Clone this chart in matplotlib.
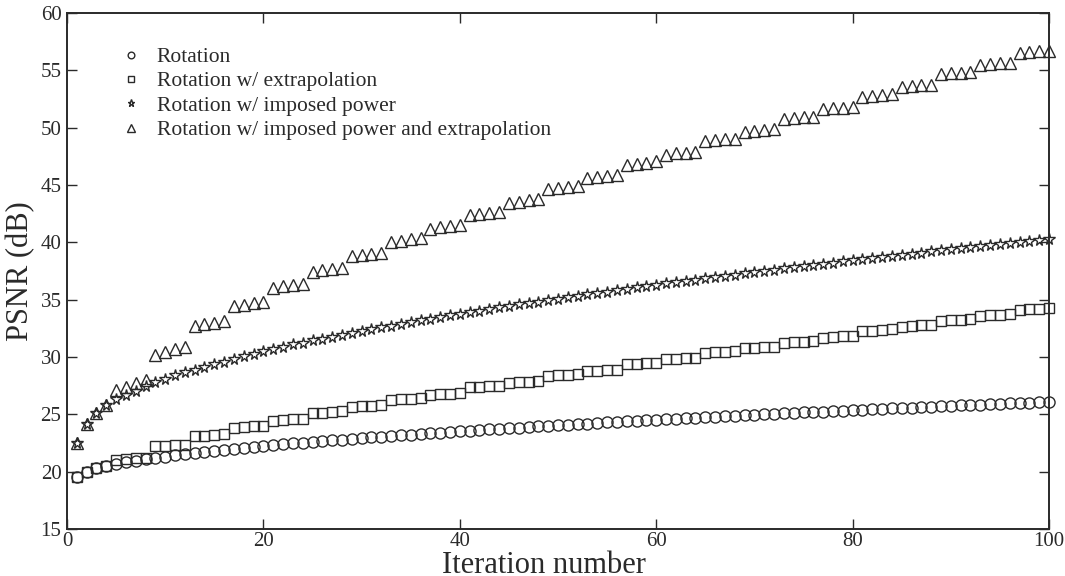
import numpy as np
import matplotlib
matplotlib.use("Agg")
import matplotlib.pyplot as plt

# Data (PSNR in dB per iteration)
iterations = list(range(1, 101))

rotation = [
    19.5, 20.0, 20.3, 20.5, 20.67, 20.81, 20.95, 21.08, 21.2, 21.31,
    21.42, 21.52, 21.62, 21.72, 21.81, 21.9, 21.99, 22.07, 22.15, 22.23,
    22.31, 22.38, 22.46, 22.53, 22.6, 22.67, 22.74, 22.8, 22.87, 22.93,
    23.0, 23.06, 23.12, 23.18, 23.24, 23.3, 23.36, 23.41, 23.47, 23.53,
    23.58, 23.64, 23.69, 23.74, 23.8, 23.85, 23.9, 23.95, 24.0, 24.05,
    24.1, 24.15, 24.2, 24.24, 24.29, 24.34, 24.39, 24.43, 24.48, 24.52,
    24.57, 24.61, 24.66, 24.7, 24.74, 24.79, 24.83, 24.87, 24.91, 24.96,
    25.0, 25.04, 25.08, 25.12, 25.16, 25.2, 25.24, 25.28, 25.32, 25.36,
    25.4, 25.44, 25.48, 25.52, 25.55, 25.59, 25.63, 25.67, 25.7, 25.74,
    25.78, 25.81, 25.85, 25.89, 25.92, 25.96, 25.99, 26.03, 26.07, 26.1,
]

rotation_extrap = [
    19.5, 20.0, 20.3, 20.5, 21.05, 21.1, 21.15, 21.2, 22.2, 22.25,
    22.3, 22.35, 23.1, 23.15, 23.2, 23.25, 23.85, 23.9, 23.95, 24.0,
    24.45, 24.5, 24.55, 24.6, 25.1, 25.15, 25.2, 25.25, 25.65, 25.7,
    25.75, 25.8, 26.25, 26.3, 26.35, 26.4, 26.7, 26.75, 26.8, 26.85,
    27.35, 27.4, 27.45, 27.5, 27.75, 27.8, 27.85, 27.9, 28.35, 28.4,
    28.45, 28.5, 28.75, 28.8, 28.85, 28.9, 29.35, 29.4, 29.45, 29.5,
    29.8, 29.85, 29.9, 29.95, 30.35, 30.4, 30.45, 30.5, 30.75, 30.8,
    30.85, 30.9, 31.25, 31.3, 31.35, 31.4, 31.7, 31.75, 31.8, 31.85,
    32.25, 32.3, 32.35, 32.4, 32.65, 32.7, 32.75, 32.8, 33.15, 33.2,
    33.25, 33.3, 33.6, 33.65, 33.7, 33.75, 34.1, 34.15, 34.2, 34.25,
]

rotation_power = [
    22.5, 24.2, 25.1, 25.8, 26.3, 26.7, 27.05, 27.45, 27.8, 28.1,
    28.4, 28.65, 28.9, 29.15, 29.4, 29.6, 29.85, 30.05, 30.3, 30.5,
    30.7, 30.9, 31.1, 31.25, 31.45, 31.6, 31.75, 31.95, 32.1, 32.26,
    32.42, 32.58, 32.74, 32.89, 33.04, 33.19, 33.34, 33.48, 33.63, 33.77,
    33.91, 34.05, 34.18, 34.32, 34.45, 34.58, 34.71, 34.84, 34.97, 35.1,
    35.22, 35.35, 35.47, 35.59, 35.71, 35.83, 35.95, 36.07, 36.18, 36.3,
    36.41, 36.53, 36.64, 36.75, 36.86, 36.97, 37.08, 37.19, 37.3, 37.4,
    37.51, 37.61, 37.72, 37.82, 37.92, 38.03, 38.13, 38.23, 38.33, 38.43,
    38.53, 38.63, 38.73, 38.82, 38.92, 39.02, 39.11, 39.21, 39.3, 39.4,
    39.49, 39.58, 39.68, 39.77, 39.86, 39.95, 40.04, 40.13, 40.22, 40.31,
]

rotation_power_extrap = [
    22.5, 24.2, 25.1, 25.8, 27.1, 27.4, 27.7, 28.0, 30.2, 30.45,
    30.7, 30.9, 32.7, 32.85, 33.0, 33.15, 34.45, 34.55, 34.7, 34.8,
    36.05, 36.15, 36.3, 36.4, 37.45, 37.55, 37.7, 37.8, 38.8, 38.9,
    39.0, 39.1, 40.05, 40.15, 40.25, 40.35, 41.2, 41.3, 41.4, 41.5,
    42.35, 42.45, 42.55, 42.65, 43.45, 43.55, 43.65, 43.75, 44.65, 44.75,
    44.85, 44.95, 45.6, 45.7, 45.8, 45.9, 46.75, 46.85, 46.95, 47.05,
    47.65, 47.75, 47.8, 47.9, 48.8, 48.9, 49.0, 49.05, 49.65, 49.75,
    49.8, 49.85, 50.75, 50.85, 50.9, 50.95, 51.6, 51.7, 51.75, 51.8,
    52.7, 52.8, 52.85, 52.9, 53.55, 53.6, 53.7, 53.75, 54.65, 54.75,
    54.8, 54.85, 55.45, 55.55, 55.6, 55.65, 56.55, 56.6, 56.65, 56.7,
]

labels = [
    "Rotation",
    "Rotation w/ extrapolation",
    "Rotation w/ imposed power",
    "Rotation w/ imposed power and extrapolation",
]

plt.rcParams["font.family"] = ["Liberation Serif", "DejaVu Serif"]
ink = "#2a2a2a"

fig = plt.figure(figsize=(10.65, 5.76), dpi=100)
ax = fig.add_axes([67 / 1065, 1 - 529 / 576, (1049 - 67) / 1065, (529 - 13) / 576])

style = dict(linestyle="none", markerfacecolor="none", markeredgecolor=ink,
             markeredgewidth=1.0, clip_on=False)
ax.plot(iterations, rotation, marker="o", markersize=8, label=labels[0], **style)
ax.plot(iterations, rotation_extrap, marker="s", markersize=6.8, label=labels[1], **style)
ax.plot(iterations, rotation_power, marker="*", markersize=8.5, label=labels[2], **style)
ax.plot(iterations, rotation_power_extrap, marker="^", markersize=9, label=labels[3], **style)

ax.set_xlim(0, 100)
ax.set_ylim(15, 60)
ax.set_xticks([0, 20, 40, 60, 80, 100])
ax.set_yticks(np.arange(15, 61, 5))

for side in ["left", "right", "top", "bottom"]:
    ax.spines[side].set_linewidth(1.4)
    ax.spines[side].set_color(ink)

ax.tick_params(direction="in", length=7, width=1.0, colors=ink,
               top=True, right=True, labelsize=15, labelcolor=ink)
ax.tick_params(axis="x", pad=2)
ax.tick_params(axis="y", pad=4)

ax.set_xlabel("Iteration number", fontsize=22, color=ink)
ax.xaxis.set_label_coords((544 - 67) / 982, -0.042)
ax.set_ylabel("PSNR (dB)", fontsize=22, color=ink, labelpad=4)

ax.legend(loc="upper left", bbox_to_anchor=(120 / 1065, 1 - 47 / 576),
          bbox_transform=fig.transFigure, frameon=False, fontsize=15.5,
          markerscale=0.6, handlelength=1.0, handletextpad=0.7,
          labelspacing=0.2, borderpad=0, borderaxespad=0, numpoints=1,
          labelcolor=ink)

fig.savefig("out.png", dpi=100)
